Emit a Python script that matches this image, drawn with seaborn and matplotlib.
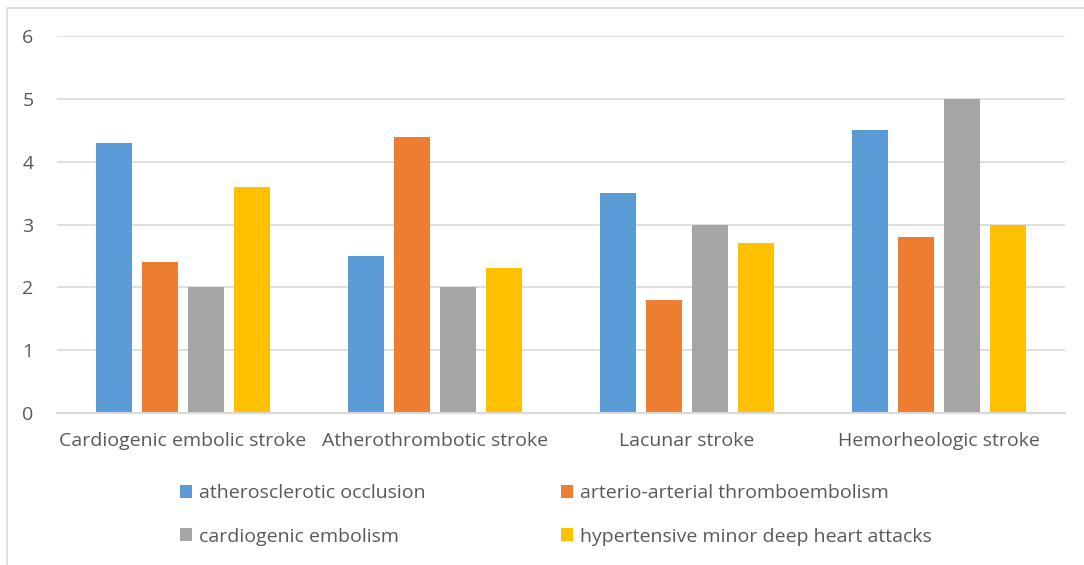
import matplotlib
matplotlib.use("Agg")
import matplotlib.pyplot as plt
import seaborn as sns
import pandas as pd
from matplotlib.patches import Rectangle, Patch

categories = ["Cardiogenic embolic stroke", "Atherothrombotic stroke", "Lacunar stroke", "Hemorheologic stroke"]
series = ["atherosclerotic occlusion", "arterio-arterial thromboembolism",
          "cardiogenic embolism", "hypertensive minor deep heart attacks"]
atherosclerotic = [4.3, 2.5, 3.5, 4.5]
arterio = [2.4, 4.4, 1.8, 2.8]
cardiogenic = [2.0, 2.0, 3.0, 5.0]
hypertensive = [3.6, 2.3, 2.7, 3.0]
colors = ["#5B9BD5", "#ED7D31", "#A5A5A5", "#FFC000"]
yticks = [0, 1, 2, 3, 4, 5, 6]

rows = []
for s, vals in zip(series, [atherosclerotic, arterio, cardiogenic, hypertensive]):
    for c, v in zip(categories, vals):
        rows.append({"category": c, "series": s, "value": v})
df = pd.DataFrame(rows)

sns.set_theme(style="white")
plt.rcParams['font.family'] = ['Open Sans', 'DejaVu Sans']
text_color = "#595959"
grid_color = "#D9D9D9"
fs = 14

fig = plt.figure(figsize=(10.84, 5.65), dpi=100)
ax = fig.add_axes([57/1084, 1 - 413/565, (1065-57)/1084, (413-36)/565])

sns.barplot(data=df, x="category", y="value", hue="series", order=categories,
            hue_order=series, palette=colors, width=0.73, gap=0.22,
            ax=ax, legend=False, saturation=1, edgecolor="none")

ax.set_ylim(0, 6)
ax.set_xlim(-0.5, 3.5)
ax.set_yticks(yticks)
ax.yaxis.grid(True, color=grid_color, linewidth=1.2)
ax.set_axisbelow(True)
for sp in ["top", "right", "left"]:
    ax.spines[sp].set_visible(False)
ax.spines["bottom"].set_color(grid_color)
ax.spines["bottom"].set_linewidth(1.5)
ax.tick_params(axis="both", length=0, colors=text_color, labelsize=fs)
ax.tick_params(axis="y", pad=17)
ax.tick_params(axis="x", pad=14)
ax.set_xlabel("")
ax.set_ylabel("")

handles = [Patch(facecolor=c, edgecolor="none") for c in colors]
order = [0, 2, 1, 3]
fig.legend([handles[i] for i in order], [series[i] for i in order],
           loc="upper left", bbox_to_anchor=(162/1084, 1 - 467/565),
           ncol=2, frameon=False, fontsize=fs, labelcolor=text_color,
           handlelength=0.65, handleheight=0.65, handletextpad=0.35,
           columnspacing=6.95, labelspacing=1.3)

fig.patches.append(Rectangle((7/1084, -0.1), 2, 1 - 8/565 + 0.1, transform=fig.transFigure,
                             fill=False, edgecolor="#D9D9D9", linewidth=1.2, figure=fig))

fig.savefig("out.png", dpi=100, facecolor="white")
